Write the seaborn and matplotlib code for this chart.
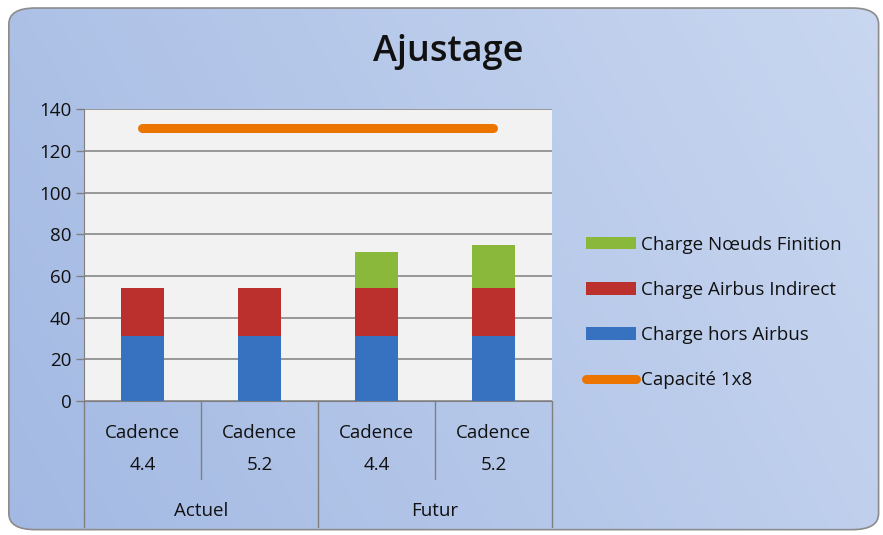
import numpy as np
import pandas as pd
import matplotlib.pyplot as plt
import seaborn as sns
from matplotlib.patches import FancyBboxPatch, Patch
from matplotlib.lines import Line2D
from matplotlib.colors import LinearSegmentedColormap
import matplotlib.transforms as mtransforms

# data
groups = ["Actuel", "Actuel", "Futur", "Futur"]
cadences = ["Cadence\n4.4", "Cadence\n5.2", "Cadence\n4.4", "Cadence\n5.2"]
charge_hors_airbus = [31, 31, 31, 31]
charge_airbus_indirect = [23, 23, 23, 23]
charge_noeuds_finition = [0, 0, 17.5, 21]
capacite = [131, 131, 131, 131]

series_labels = ["Charge Nœuds Finition", "Charge Airbus Indirect", "Charge hors Airbus"]
series_colors = ["#8ab83b", "#bb2f2c", "#3672bf"]
line_color = "#ec7400"


def main():
    sns.set_style("white")
    plt.rcParams["font.family"] = ["Open Sans", "DejaVu Sans"]

    x = list(range(len(cadences)))
    df = pd.DataFrame({
        "pos": x,
        "blue": charge_hors_airbus,
        "red": np.add(charge_hors_airbus, charge_airbus_indirect),
    })
    df["green"] = df["red"] + np.array(charge_noeuds_finition)
    df["cap"] = capacite

    fig = plt.figure(figsize=(8.83, 5.35), dpi=100)

    # background gradient with rounded frame
    bg = fig.add_axes([0, 0, 1, 1], zorder=-10)
    cmap = LinearSegmentedColormap.from_list("bg", ["#a3b9e3", "#c9d7f0"])
    gx, gy = np.meshgrid(np.linspace(0, 1, 200), np.linspace(0, 1, 200))
    grad = 0.75 * gx + 0.25 * (1 - gy)
    im = bg.imshow(grad, cmap=cmap, extent=[0, 1, 0, 1], aspect="auto", origin="upper")
    frame = FancyBboxPatch((0.010, 0.010), 0.985, 0.975,
                           boxstyle="round,pad=0,rounding_size=0.03",
                           transform=bg.transAxes, fc="none", ec="#8c8c8c", lw=1.2)
    bg.add_patch(frame)
    im.set_clip_path(frame)
    bg.set_xlim(0, 1)
    bg.set_ylim(0, 1)
    bg.axis("off")

    ax = fig.add_axes([0.095, 0.2505, 0.530, 0.5455])
    ax.set_facecolor("#f2f2f2")

    # stacked bars drawn as cumulative totals
    for col, color in zip(["green", "red", "blue"], series_colors):
        sns.barplot(data=df, x="pos", y=col, color=color, width=0.37,
                    saturation=1, native_scale=True, linewidth=0, ax=ax, zorder=3)
    sns.lineplot(data=df, x="pos", y="cap", color=line_color, lw=6.5,
                 solid_capstyle="round", ax=ax, zorder=4)

    ax.set_xlim(-0.5, 3.5)
    ax.set_ylim(0, 140)
    ax.set_yticks(range(0, 141, 20))
    ax.grid(axis="y", color="#7f7f7f", lw=1.1, zorder=0)
    ax.set_axisbelow(True)
    ax.set_xticks([])
    ax.set_xlabel("")
    ax.set_ylabel("")
    ax.tick_params(axis="y", length=6, width=1, color="#7f7f7f",
                   labelsize=13.5, labelcolor="#111111", pad=3, left=True)
    for s in ["top", "right"]:
        ax.spines[s].set_visible(False)
    ax.spines["left"].set_color("#7f7f7f")
    ax.spines["bottom"].set_color("#7f7f7f")

    # multi-level category axis below the plot
    trans = mtransforms.blended_transform_factory(ax.transData, ax.transAxes)
    for xs in [-0.5, 1.5, 3.5]:
        ax.add_line(Line2D([xs, xs], [0, -0.433], transform=trans, color="#7f7f7f",
                           lw=1, clip_on=False))
    for xs in [0.5, 2.5]:
        ax.add_line(Line2D([xs, xs], [0, -0.267], transform=trans, color="#7f7f7f",
                           lw=1, clip_on=False))
    for xi, lab in zip(x, cadences):
        ax.text(xi, -0.165, lab, transform=trans, ha="center", va="center",
                fontsize=13.5, color="#111111", linespacing=1.95)
    for g in ["Actuel", "Futur"]:
        pos = np.mean([xi for xi, gg in zip(x, groups) if gg == g])
        ax.text(pos, -0.378, g, transform=trans, ha="center", va="center",
                fontsize=13.5, color="#111111")

    fig.text(0.508, 0.903, "Ajustage", ha="center", va="center", fontsize=26,
             fontweight="semibold", color="#111111")

    handles = [Patch(facecolor=c, edgecolor="none") for c in series_colors]
    handles.append(Line2D([0], [0], color=line_color, lw=6.5, solid_capstyle="round"))
    labels = series_labels + ["Capacité 1x8"]
    fig.legend(handles, labels, loc="center left", bbox_to_anchor=(0.644, 0.416),
               frameon=False, fontsize=13.5, labelspacing=1.45, handlelength=2.7,
               handleheight=0.65, handletextpad=0.25, labelcolor="#111111")

    fig.savefig("out.png", dpi=100)


if __name__ == "__main__":
    main()
